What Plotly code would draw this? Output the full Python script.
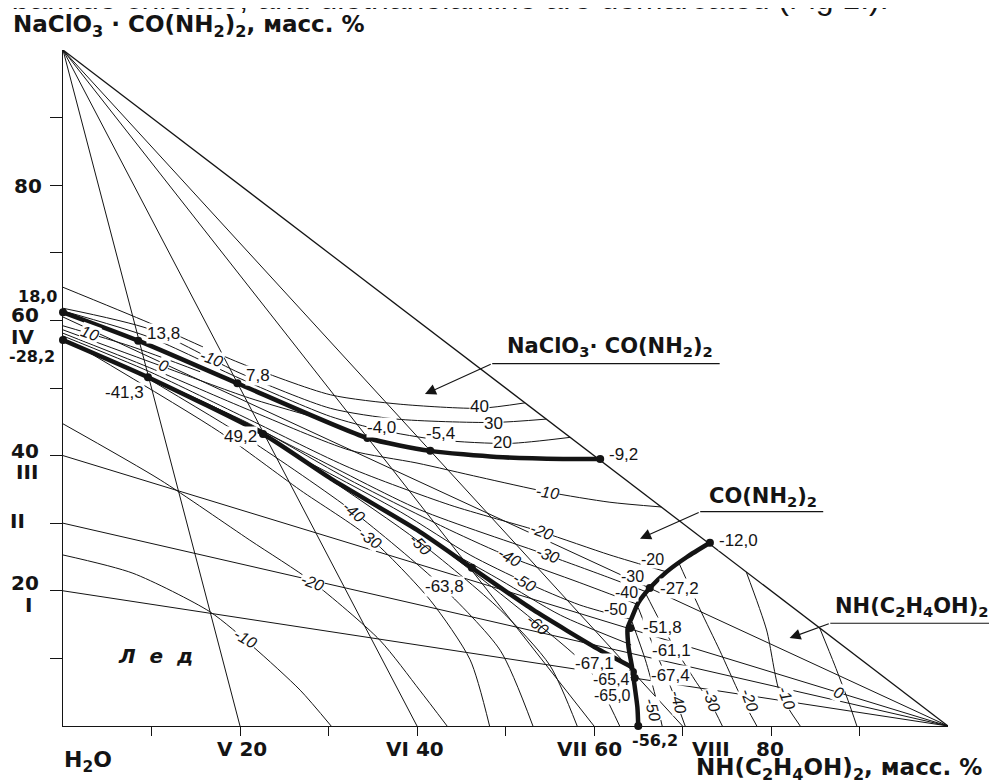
import plotly.graph_objects as go

# ---------------- data (mass %: x = NH(C2H4OH)2, y = NaClO3·CO(NH2)2) ----------------
# thick crystallisation curves
upper_x = [0, 8.5, 19.7, 34.4, 41.5, 49.0, 56.5, 60.7]
upper_y = [61.2, 57.0, 50.7, 42.6, 40.7, 39.8, 39.5, 39.5]
lower_x = [0, 9.6, 22.6, 30.5, 40.0, 46.2, 53.1, 60.7, 64.3]
lower_y = [57.1, 51.6, 43.2, 36.4, 29.0, 23.4, 17.2, 11.2, 8.7]
right_x = [73.1, 70.5, 68.2, 66.3, 65.0, 64.3, 63.8, 63.9, 64.3, 64.5, 64.9, 65.0]
right_y = [27.1, 25.0, 22.8, 20.4, 18.2, 16.1, 14.5, 11.7, 8.7, 6.8, 2.8, 0]

# invariant / labelled points
point_x = [0, 8.5, 19.7, 34.4, 41.5, 60.7, 0, 9.6, 22.6, 46.2, 73.1, 66.3, 64.1, 64.4, 64.6, 65.0]
point_y = [61.2, 57.0, 50.7, 42.6, 40.7, 39.5, 57.1, 51.6, 43.2, 23.4, 27.1, 20.4, 14.5, 8.0, 7.1, 0]

# internal sections: from the top vertex to the base (V..VIII), from the right vertex to the left side (I..IV)
top_section_ends = [20, 40, 60, 70]
right_section_ends = [20, 30, 40, 60.5]

# isotherms, field of NaClO3·CO(NH2)2
iso_salt = {
    "40": ([0, 9.8, 20.0, 30.2, 38.1, 47.1, 52.2], [64.9, 59.6, 53.7, 49.0, 47.6, 47.0, 47.8]),
    "30": ([0, 9.8, 20.0, 30.2, 37.7, 48.6, 54.6], [61.8, 58.7, 52.2, 47.0, 45.4, 44.9, 45.4]),
    "20": ([0, 9.8, 20.0, 30.2, 35.8, 42.6, 50.4, 57.3], [61.4, 57.5, 51.4, 45.8, 43.8, 42.3, 41.8, 42.7]),
}
# isotherms, field of CO(NH2)2
iso_urea = {
    "10": ([0, 7.6, 15.5], [59.2, 56.2, 52.4]),
    "0": ([0, 11.0, 21.1, 30.0], [58.6, 53.3, 48.5, 45.1]),
    "-10": ([0, 9.8, 21.1, 32.4, 40.0, 47.1, 54.8, 61.8, 67.6], [58.1, 53.0, 46.7, 40.8, 38.9, 36.8, 34.6, 33.1, 32.4]),
    "-20": ([0, 9.8, 21.1, 32.4, 43.7, 54.1, 61.8, 68.2], [57.7, 52.4, 45.3, 38.2, 32.7, 28.7, 25.3, 22.8]),
    "-30": ([2.5, 15.5, 26.8, 40.3, 54.7, 61.8, 66.0], [55.6, 48.2, 40.8, 32.0, 25.3, 21.9, 19.8]),
    "-40": ([8.7, 21.1, 32.4, 43.7, 50.5, 58.4, 65.1], [52.1, 44.7, 36.4, 29.0, 25.0, 21.2, 17.9]),
    "-50": ([25.6, 38.1, 46.0, 52.2, 58.4, 64.4], [40.5, 31.7, 25.3, 21.3, 17.9, 15.7]),
    "-60": ([42.6, 49.4, 56.2, 64.2], [26.6, 21.6, 16.4, 12.0]),
}
# isotherms, field of ice
iso_ice = {
    "-10": ([0, 7.9, 16.6, 21.5, 26.8, 30.3], [25.3, 22.6, 16.9, 11.7, 5.3, 0]),
    "-20": ([0, 11.0, 21.1, 28.2, 35.8, 40.3, 43.4], [44.7, 36.4, 27.5, 21.3, 12.7, 5.3, 0]),
    "-30": ([2.5, 17.7, 26.8, 34.7, 41.5, 46.0, 48.2], [55.6, 43.5, 34.9, 27.8, 18.6, 9.8, 0]),
    "-40": ([8.7, 21.1, 32.8, 42.6, 49.4, 53.1], [52.1, 42.3, 31.7, 20.9, 11.2, 0]),
    "-50": ([25.6, 40.0, 49.4, 55.0, 58.1], [40.5, 27.5, 17.2, 9.0, 0]),
    "-60": ([42.6, 53.1, 59.5, 62.9], [26.6, 15.7, 8.3, 0]),
}
# isotherms, field of NH(C2H4OH)2
iso_dea = {
    "0": ([85.5, 87.2, 88.7, 89.7], [14.5, 9.0, 3.8, 0]),
    "-10": ([77.2, 79.5, 81.0, 83.3], [22.8, 14.2, 4.9, 0]),
    "-20": ([69.6, 72.0, 74.2, 76.5, 78.4], [24.1, 17.2, 11.2, 4.6, 0]),
    "-30": ([65.8, 68.6, 71.4, 73.3, 74.5], [19.7, 12.7, 6.8, 3.1, 0]),
    "-40": ([65.0, 66.9, 68.8, 70.3], [17.5, 11.2, 5.3, 0]),
    "-50": ([64.3, 65.8, 66.9, 67.7], [15.4, 9.8, 4.6, 0]),
}

x_ticks = [10, 20, 30, 40, 50, 60, 70, 80, 90]
y_ticks = [10, 20, 30, 40, 50, 60, 70, 80, 90]

FONT = "Liberation Sans, Arial, sans-serif"
FONT_B = "DejaVu Sans, Liberation Sans, sans-serif"
INK = "#141414"

fig = go.Figure()


def add_line(xs, ys, width=1.0, shape="linear"):
    fig.add_trace(go.Scatter(x=xs, y=ys, mode="lines",
                             line=dict(width=width, color=INK, shape=shape, smoothing=0.7),
                             hoverinfo="skip", showlegend=False, cliponaxis=False))


# triangle hypotenuse
add_line([0, 100], [100, 0], 1.3)
# sections
for e in top_section_ends:
    add_line([0, e], [100, 0], 1.0)
for e in right_section_ends:
    add_line([100, 0], [0, e], 1.0)
# isotherms
for group in (iso_salt, iso_urea, iso_ice, iso_dea):
    for xs, ys in group.values():
        add_line(xs, ys, 1.0, "spline")
# thick curves
for xs, ys in ((upper_x, upper_y), (lower_x, lower_y), (right_x, right_y)):
    fig.add_trace(go.Scatter(x=xs, y=ys, mode="lines",
                             line=dict(width=4.5, color=INK, shape="spline", smoothing=0.6),
                             hoverinfo="skip", showlegend=False, cliponaxis=False))
fig.add_trace(go.Scatter(x=point_x, y=point_y, mode="markers",
                         marker=dict(size=8, color=INK), hoverinfo="skip",
                         showlegend=False, cliponaxis=False))

ann = []


def txt(text, x, y, size=16, angle=0, bold=False, italic=False, bg=None, xanchor="center",
        yanchor="middle", family=FONT):
    # positions are given in mass %; the axes span 0..100 of the plotting area, so paper = % / 100
    if bold:
        text = "<b>" + text + "</b>"
    if italic:
        text = "<i>" + text + "</i>"
    d = dict(text=text, x=x / 100, y=y / 100, xref="paper", yref="paper", showarrow=False, textangle=angle,
             font=dict(family=family, size=size, color=INK), xanchor=xanchor, yanchor=yanchor,
             borderpad=0)
    if bg:
        d["bgcolor"] = bg
    ann.append(d)


# cut text line at the very top (only its lower part is inside the picture)
txt("rbamide chlorate, and diethanolamine are demarcated (Fig 1.).", -7.1, 104.85, size=32,
    xanchor="left", yanchor="bottom")
# axis titles
txt("NaClO<sub>3</sub> · CO(NH<sub>2</sub>)<sub>2</sub>, масс. %", -5.8, 103.5, size=23, bold=True,
    xanchor="left", family=FONT_B)
txt("NH(C<sub>2</sub>H<sub>4</sub>OH)<sub>2</sub>, масс. %", 104.0, -6.3, size=23, bold=True,
    xanchor="right", family=FONT_B)
txt("H<sub>2</sub>O", 0, -5.3, size=22, bold=True, xanchor="left", family=FONT_B)

# left-side labels
for t, x, y, s in [("80", -3.95, 79.9, 20), ("18,0", -2.9, 63.6, 16), ("60", -4.3, 60.8, 20),
                   ("IV", -4.6, 57.5, 20), ("-28,2", -3.5, 54.6, 16), ("40", -4.3, 40.7, 20),
                   ("III", -4.1, 37.6, 20), ("II", -5.1, 30.3, 20), ("20", -4.3, 21.2, 20),
                   ("I", -3.9, 17.9, 20)]:
    txt(t, x, y, s, bold=True, family=FONT_B)
# bottom labels
for t, x, y, s in [("V 20", 20.2, -3.45, 20), ("VI 40", 39.8, -3.45, 20), ("VII 60", 59.5, -3.45, 20),
                   ("-56,2", 66.9, -2.2, 16), ("VIII", 73.2, -3.45, 20), ("80", 79.9, -3.45, 20)]:
    txt(t, x, y, s, bold=True, family=FONT_B)

# point temperature labels
for t, x, y, s in [("13,8", 11.3, 58.1, 17), ("7,8", 22.0, 51.8, 17), ("-4,0", 36.0, 44.2, 17),
                   ("-5,4", 42.6, 43.3, 17), ("-9,2", 63.3, 40.1, 17), ("40", 47.1, 47.2, 17),
                   ("30", 48.6, 44.8, 17), ("20", 49.7, 42.0, 17), ("-41,3", 7.0, 49.4, 17),
                   ("49,2", 20.0, 42.8, 17), ("-63,8", 43.1, 20.7, 17), ("-67,1", 60.1, 9.3, 17),
                   ("-65,4", 62.0, 6.9, 16), ("-65,0", 62.1, 4.5, 16), ("-67,4", 68.6, 7.5, 17),
                   ("-61,1", 68.8, 11.2, 17), ("-51,8", 67.7, 14.6, 17), ("-27,2", 69.7, 20.4, 17),
                   ("-12,0", 76.3, 27.5, 17), ("-20", 66.6, 24.7, 16), ("-30", 64.4, 22.1, 16),
                   ("-40", 63.7, 19.8, 16), ("-50", 62.4, 17.2, 16)]:
    txt(t, x, y, s, bg="white")

# italic isotherm labels (those touching a thick curve get no white box)
for t, x, y, a, box in [("10", 3.1, 58.1, 20, True), ("-10", 16.8, 54.4, 20, True), ("0", 11.3, 53.3, 20, True),
                        ("-10", 54.8, 34.6, 8, True), ("-20", 54.1, 28.7, 20, True), ("-30", 54.7, 25.3, 20, True),
                        ("-40", 50.5, 25.0, 30, True), ("-50", 52.2, 21.3, 30, True), ("-60", 53.6, 15.0, 40, False),
                        ("-40", 32.8, 31.7, 40, True), ("-30", 34.7, 27.8, 35, True), ("-50", 40.4, 26.9, 45, False),
                        ("-20", 28.2, 21.3, 20, True), ("-10", 20.6, 13.0, 30, True),
                        ("-50", 66.6, 2.4, 75, True), ("-40", 69.5, 3.6, 75, True), ("-30", 73.3, 3.8, 70, True),
                        ("-20", 77.6, 3.8, 70, True), ("-10", 81.8, 4.1, 70, True), ("0", 87.6, 4.9, 25, True)]:
    txt(t, x, y, 16, angle=a, italic=True, bg="white" if box else None)

# field labels
txt("NaClO<sub>3</sub>· CO(NH<sub>2</sub>)<sub>2</sub>", 61.8, 56.1, 21, bold=True, family=FONT_B)
txt("CO(NH<sub>2</sub>)<sub>2</sub>", 79.1, 33.9, 21, bold=True, family=FONT_B)
txt("NH(C<sub>2</sub>H<sub>4</sub>OH)<sub>2</sub>", 95.9, 17.6, 21, bold=True, family=FONT_B)
txt("Л  е  д", 10.5, 10.4, 20, bold=True, italic=True, family=FONT_B)

# leader underlines + arrows
shapes = []
for (x0, x1, y, hx, hy) in [(48.5, 74.2, 53.6, 40.9, 49.1), (72.0, 85.9, 31.7, 65.2, 27.7),
                            (86.7, 105.5, 15.2, 82.1, 13.0)]:
    shapes.append(dict(type="line", xref="paper", yref="paper", x0=x0 / 100, x1=x1 / 100,
                       y0=y / 100, y1=y / 100, line=dict(color=INK, width=1.2)))
    ann.append(dict(x=hx, y=hy, ax=x0, ay=y, xref="x", yref="y", axref="x", ayref="y", text="",
                    showarrow=True, arrowhead=2, arrowsize=2.0, arrowwidth=1.1, arrowcolor=INK))

# the page adds an 8 px body margin, so the figure is 8 px smaller than the window
fig.update_layout(
    width=989, height=775, margin=dict(l=55, r=49, t=42, b=57),
    paper_bgcolor="white", plot_bgcolor="white",
    annotations=ann, shapes=shapes,
    xaxis=dict(range=[0, 100], showgrid=False, zeroline=False, showline=True, linecolor=INK,
               linewidth=1.3, ticks="outside", tickvals=x_ticks, ticklen=9, tickwidth=1.2,
               tickcolor=INK, showticklabels=False, fixedrange=True),
    yaxis=dict(range=[0, 100], showgrid=False, zeroline=False, showline=True, linecolor=INK,
               linewidth=1.3, ticks="outside", tickvals=y_ticks, ticklen=12, tickwidth=1.2,
               tickcolor=INK, showticklabels=False, fixedrange=True),
)

fig.write_html("out.html")
